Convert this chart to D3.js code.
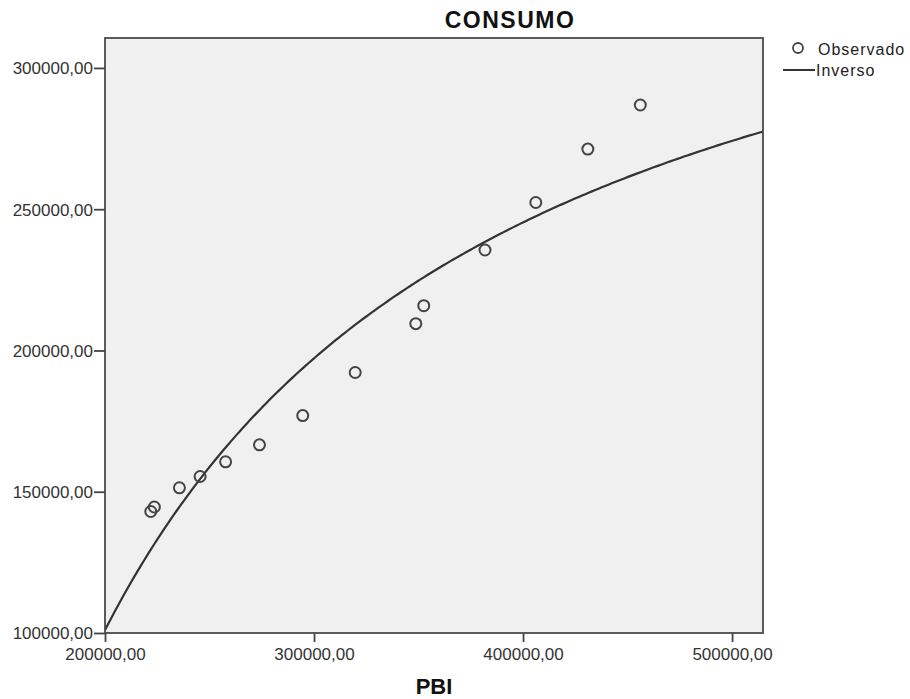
<!DOCTYPE html>
<html>
<head>
<meta charset="utf-8">
<script src="https://cdn.jsdelivr.net/npm/d3@7"></script>
<style>
  body { margin: 0; background: #fff; }
  svg { display: block; font-family: "Liberation Sans", Arial, sans-serif; }
</style>
</head>
<body>
<div id="chart"></div>
<script>
const pbi = [221900, 223600, 235600, 245500, 257700, 273900, 294600, 319700,
             348700, 352500, 381800, 406100, 431000, 456100];
const consumo = [143000, 144600, 151400, 155400, 160600, 166600, 176950, 192200,
                 209500, 215850, 235570, 252370, 271280, 286880];
const xTicks = [200000, 300000, 400000, 500000];
const yTicks = [100000, 150000, 200000, 250000, 300000];
const legendItems = ["Observado", "Inverso"];

const width = 910, height = 699;
const plot = { left: 105, right: 763, top: 38, bottom: 633 };

const loc = d3.formatLocale({ decimal: ",", thousands: "", grouping: [3], currency: ["", ""] });
const fmt = loc.format(".2f");

const svg = d3.select("#chart").append("svg")
    .attr("width", width)
    .attr("height", height);

const x = d3.scaleLinear().domain([200000, 514800]).range([plot.left, plot.right]);
const y = d3.scaleLinear().domain([100000, 310600]).range([plot.bottom, plot.top]);

// plot background
svg.append("rect")
    .attr("x", plot.left)
    .attr("y", plot.top)
    .attr("width", plot.right - plot.left)
    .attr("height", plot.bottom - plot.top)
    .attr("fill", "#f0f0f0");

// inverse model fit: y = b0 + b1 / x (least squares on observed data)
const u = pbi.map(v => 1 / v);
const mu = d3.mean(u), my = d3.mean(consumo);
let sxy = 0, sxx = 0;
u.forEach((v, i) => { sxy += (v - mu) * (consumo[i] - my); sxx += (v - mu) * (v - mu); });
const b1 = sxy / sxx;
const b0 = my - b1 * mu;

svg.append("clipPath").attr("id", "clip")
    .append("rect")
    .attr("x", plot.left).attr("y", plot.top)
    .attr("width", plot.right - plot.left).attr("height", plot.bottom - plot.top);

const xs = d3.range(0, 201).map(i => x.domain()[0] + (x.domain()[1] - x.domain()[0]) * i / 200);
const line = d3.line()
    .x(d => x(d))
    .y(d => y(b0 + b1 / d));

svg.append("path")
    .datum(xs)
    .attr("clip-path", "url(#clip)")
    .attr("d", line)
    .attr("fill", "none")
    .attr("stroke", "#333")
    .attr("stroke-width", 2.2);

// observed points
svg.append("g")
    .selectAll("circle")
    .data(pbi)
    .enter()
    .append("circle")
    .attr("cx", d => x(d))
    .attr("cy", (d, i) => y(consumo[i]))
    .attr("r", 5.5)
    .attr("fill", "none")
    .attr("stroke", "#444")
    .attr("stroke-width", 2);

// axes
const xAxis = svg.append("g")
    .attr("transform", `translate(0,${plot.bottom})`)
    .call(d3.axisBottom(x).tickValues(xTicks).tickFormat(fmt).tickSize(9).tickSizeOuter(0));
const yAxis = svg.append("g")
    .attr("transform", `translate(${plot.left},0)`)
    .call(d3.axisLeft(y).tickValues(yTicks).tickFormat(fmt).tickSize(11).tickSizeOuter(0));

[xAxis, yAxis].forEach(a => {
    a.select(".domain").remove();
    a.selectAll("line").attr("stroke", "#444").attr("stroke-width", 1.8);
    a.selectAll("text")
        .attr("fill", "#333")
        .style("font-size", "17px")
        .style("font-family", "'Liberation Sans', Arial, sans-serif");
});
xAxis.selectAll("text").attr("dy", "0").attr("y", 27);
yAxis.selectAll("text").attr("x", -12).attr("dy", "0.35em");

// frame
svg.append("rect")
    .attr("x", plot.left)
    .attr("y", plot.top)
    .attr("width", plot.right - plot.left)
    .attr("height", plot.bottom - plot.top)
    .attr("fill", "none")
    .attr("stroke", "#4a4a4a")
    .attr("stroke-width", 1.8);

// title and axis label
svg.append("text")
    .attr("x", 510)
    .attr("y", 28)
    .attr("text-anchor", "middle")
    .attr("fill", "#111")
    .style("font-size", "23px")
    .style("font-weight", "bold")
    .style("letter-spacing", "1.5px")
    .text("CONSUMO");

svg.append("text")
    .attr("x", 434)
    .attr("y", 694)
    .attr("text-anchor", "middle")
    .attr("fill", "#111")
    .style("font-size", "22px")
    .style("font-weight", "bold")
    .text("PBI");

// legend
const lg = svg.append("g");
lg.append("circle")
    .attr("cx", 798).attr("cy", 48).attr("r", 5)
    .attr("fill", "none").attr("stroke", "#444").attr("stroke-width", 1.8);
lg.append("text")
    .attr("x", 818).attr("y", 55)
    .attr("fill", "#222").style("font-size", "16px")
    .style("letter-spacing", "1px")
    .text(legendItems[0]);
lg.append("line")
    .attr("x1", 783).attr("x2", 815).attr("y1", 70).attr("y2", 70)
    .attr("stroke", "#333").attr("stroke-width", 2);
lg.append("text")
    .attr("x", 816).attr("y", 76)
    .attr("fill", "#222").style("font-size", "16px")
    .style("letter-spacing", "1px")
    .text(legendItems[1]);
</script>
</body>
</html>
